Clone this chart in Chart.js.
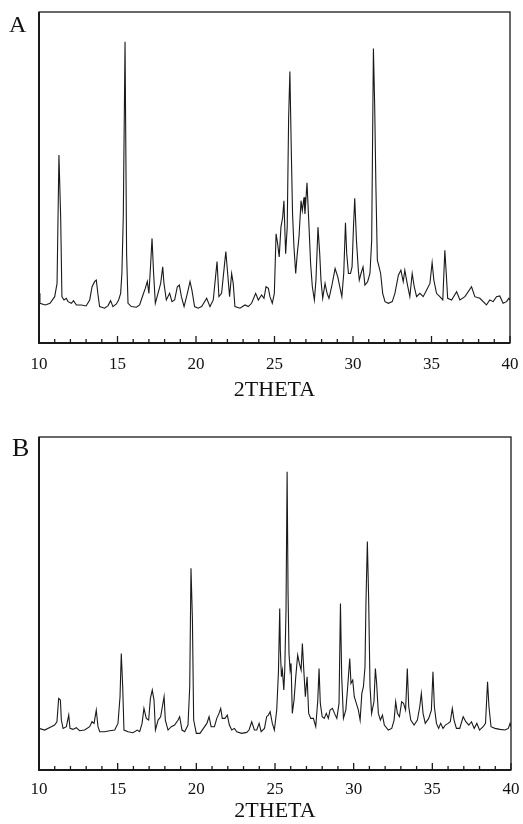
<!DOCTYPE html>
<html>
<head>
<meta charset="utf-8">
<script src="https://cdn.jsdelivr.net/npm/chart.js@4/dist/chart.umd.min.js"></script>
<style>
  html, body { margin: 0; padding: 0; background: #fff; }
  .panel { position: relative; width: 523px; height: 412px; }
  canvas { display: block; }
  .lab { position: absolute; font-family: "Liberation Serif", "DejaVu Serif", serif; color: #111; line-height: 1; }
</style>
</head>
<body>
<div class="panel">
  <canvas id="cA" width="523" height="412"></canvas>
  <span class="lab" style="left:9px;top:12px;font-size:24px;">A</span>
</div>
<div class="panel">
  <canvas id="cB" width="523" height="412"></canvas>
  <span class="lab" style="left:12px;top:23px;font-size:26px;">B</span>
</div>
<script>
// ---- data (2theta in degrees, intensity in arbitrary units) ----
const tickLabels = [10, 15, 20, 25, 30, 35, 40];

const thetaA = [10.00,10.06,10.40,10.70,11.00,11.15,11.27,11.38,11.46,11.59,11.74,11.85,12.06,12.20,12.38,12.70,13.00,13.23,13.38,13.55,13.65,13.76,13.86,14.18,14.40,14.56,14.71,14.93,15.07,15.20,15.28,15.37,15.48,15.58,15.67,15.88,16.20,16.41,16.62,16.77,16.90,17.00,17.09,17.20,17.30,17.41,17.58,17.75,17.88,17.96,18.11,18.32,18.47,18.64,18.81,18.94,19.07,19.24,19.45,19.62,19.74,19.91,20.13,20.36,20.68,20.89,21.10,21.34,21.46,21.63,21.80,21.90,22.00,22.14,22.27,22.37,22.48,22.80,23.12,23.33,23.54,23.80,23.97,24.18,24.33,24.46,24.61,24.71,24.86,24.99,25.10,25.20,25.30,25.41,25.52,25.60,25.71,25.81,25.90,25.98,26.07,26.15,26.24,26.35,26.45,26.56,26.69,26.77,26.88,26.94,27.07,27.20,27.30,27.41,27.54,27.64,27.77,27.88,27.96,28.07,28.22,28.35,28.47,28.64,28.86,29.03,29.18,29.29,29.41,29.52,29.60,29.71,29.84,29.94,30.03,30.11,30.22,30.34,30.40,30.51,30.64,30.76,30.93,31.08,31.19,31.30,31.38,31.46,31.55,31.66,31.76,31.89,32.04,32.25,32.50,32.67,32.89,33.05,33.20,33.30,33.45,33.62,33.77,33.90,34.05,34.26,34.47,34.69,34.90,35.04,35.15,35.32,35.53,35.72,35.85,35.94,36.03,36.28,36.60,36.81,37.13,37.55,37.76,38.08,38.50,38.71,38.93,39.14,39.35,39.56,39.78,39.93,40.00];
const intensityA = [15,12,11.5,12,14,18,56.8,38,14,13,13.5,12.5,12,12.8,11.5,11.5,11.2,13,17,18.6,19,14.5,11,10.5,11.3,12.8,11,11.8,13,15,21,38.5,91,27,12,11,10.8,11.5,14.5,16.5,18.6,15,22,31.6,21,12,15,18,23,18,13,15,12.5,13,17,17.5,14,11,15,18.6,16,11,10.5,11,13.5,11,13,24.6,14,15,23,27.6,22,14,21,18,11,10.5,11.5,11,12,15,13,14.5,13.5,17,16.5,14,12,15,33,30,26,35,38,43,27,35,68,82,58,39,29,21,27,32,43,40,44,39,48.4,35,24,17,13,19,35,27,19,13.5,18,15,13.5,17,22.5,20,16.5,14,21,36.3,27,21,21,23,35,43.7,31,22,19,21,23,17.5,18.5,21,31,89,72,47,25,23,21,15,12.5,12,12.5,15,20.5,22,18.5,22,18,14,21,17,14,15,14,16,18,24.3,19,15,14,13,28,21,13.5,13,15.5,13,14,17,14,13.5,11.5,13,12.5,14,14.2,12,12.5,13.5,13];

const thetaB = [10.00,10.36,10.78,10.99,11.14,11.25,11.36,11.42,11.53,11.74,11.89,11.97,12.16,12.37,12.58,12.90,13.22,13.37,13.50,13.64,13.75,13.86,14.17,14.49,14.81,15.02,15.15,15.23,15.32,15.40,15.66,15.97,16.25,16.40,16.55,16.67,16.82,16.97,17.08,17.20,17.31,17.40,17.57,17.73,17.95,18.03,18.20,18.41,18.62,18.84,18.94,19.09,19.26,19.47,19.58,19.66,19.75,19.83,20.00,20.23,20.45,20.67,20.81,20.94,21.15,21.30,21.44,21.55,21.65,21.82,21.97,22.10,22.25,22.42,22.57,22.88,23.20,23.35,23.52,23.69,23.84,23.99,24.12,24.33,24.47,24.58,24.69,24.83,24.96,25.11,25.22,25.30,25.34,25.41,25.47,25.56,25.62,25.70,25.77,25.83,25.89,25.96,26.02,26.10,26.21,26.32,26.44,26.55,26.66,26.74,26.83,26.93,27.04,27.14,27.27,27.44,27.59,27.72,27.80,27.88,28.00,28.13,28.26,28.39,28.50,28.65,28.78,28.93,29.07,29.16,29.24,29.35,29.50,29.62,29.75,29.83,29.94,30.04,30.17,30.30,30.41,30.52,30.62,30.72,30.78,30.87,30.95,31.04,31.14,31.29,31.38,31.46,31.57,31.70,31.83,31.95,32.20,32.42,32.57,32.67,32.78,32.91,33.05,33.17,33.30,33.41,33.50,33.63,33.84,34.05,34.20,34.30,34.41,34.55,34.77,34.94,35.04,35.13,35.26,35.40,35.53,35.68,35.83,36.00,36.14,36.27,36.38,36.53,36.74,36.96,37.13,37.32,37.49,37.66,37.83,38.00,38.23,38.38,38.51,38.60,38.73,38.98,39.30,39.62,39.83,39.94,40.00];
const intensityB = [12.5,12,13,13.5,14.5,21.5,21,15,12.5,13,16.5,12.5,12.2,12.7,11.8,12,13,14.5,14,18,13,11.5,11.5,11.8,12,14,22,35,25,12,11.5,11.2,12,11.5,14,18.5,15.5,15,21.5,24,21,12,15,16,22,15,12,13,13.5,15,16,12,11.5,13.5,25,60.6,45.5,15,11,11,12.5,14,16,13,13,15.5,17,18.5,15.5,15.5,16.5,13.5,12,12.5,11.5,11,11.3,12,14.5,12,12,14,11.5,12.5,16,16.5,17.5,14,12,18,29.6,48.5,36,28,30,24,30,48,89.6,53,35,30,32,17,21,28,34.5,32,30,38,30,22,28,17,15.5,15.5,13,21,30.5,20,16,15.5,17,15.5,18,18.5,17,15.5,20,50,28,15.5,18,25,33.5,26,27,22,20,18,15,23,25,31,50,68.6,52,25,17,20.5,30.5,26,17,15,16.5,13.5,12,12.5,15,20.5,17,16,20.5,20,18,30.5,19,15,13.5,15,19,23,17,14,15.5,18,29.5,19,14,12.5,14,12.5,13.5,14,14.5,18.5,15,12.5,12.5,16,14.5,13.5,14.5,12.5,14,12,13,14,26.5,19,13,12.5,12.2,12,12.5,14,13];

// ---- drawing ----
const SERIF = '"Liberation Serif", "Times New Roman", serif';

const framePlugin = {
  id: 'frame',
  afterDraw(chart) {
    const { ctx, chartArea: a, scales: { x } } = chart;
    ctx.save();
    ctx.strokeStyle = '#1a1a1a';
    ctx.lineWidth = 1.3;
    ctx.strokeRect(a.left, a.top, a.right - a.left, a.bottom - a.top);
    ctx.lineWidth = 2;
    ctx.beginPath();
    ctx.moveTo(a.left, a.top);
    ctx.lineTo(a.left, a.bottom);
    ctx.lineTo(a.right, a.bottom);
    ctx.stroke();
    ctx.lineWidth = 1.3;
    x.ticks.forEach(t => {
      const px = x.getPixelForValue(t.value);
      const len = tickLabels.includes(t.value) ? 7 : 4;
      ctx.beginPath();
      ctx.moveTo(px, a.bottom);
      ctx.lineTo(px, a.bottom - len);
      ctx.stroke();
    });
    ctx.restore();
  }
};

function makeChart(id, theta, inten, pad, axisH, tickPad, titlePad) {
  return new Chart(document.getElementById(id), {
    type: 'line',
    data: {
      datasets: [{
        data: theta.map((t, i) => ({ x: t, y: inten[i] })),
        borderColor: '#1a1a1a',
        borderWidth: 1.1,
        pointRadius: 0,
        tension: 0,
        fill: false
      }]
    },
    options: {
      responsive: false,
      animation: false,
      devicePixelRatio: 1,
      layout: { padding: pad },
      plugins: { legend: { display: false }, tooltip: { enabled: false }, title: { display: false } },
      scales: {
        x: {
          type: 'linear', min: 10, max: 40,
          grid: { display: false },
          border: { display: false },
          afterFit: s => { s.height = axisH; },
          ticks: {
            stepSize: 1, autoSkip: false, maxRotation: 0, padding: tickPad,
            color: '#111', font: { family: SERIF, size: 17 },
            callback: v => tickLabels.includes(v) ? String(v) : ''
          },
          title: {
            display: true, text: '2THETA', color: '#111',
            font: { family: SERIF, size: 22 },
            padding: titlePad
          }
        },
        y: { display: false, min: 0, max: 100 }
      }
    },
    plugins: [framePlugin]
  });
}

makeChart('cA', thetaA, intensityA, { left: 39, right: 13, top: 12, bottom: 0 }, 69, 3, { top: 0, bottom: 9 });
makeChart('cB', thetaB, intensityB, { left: 39, right: 12, top: 25, bottom: 0 }, 54, 1, { top: 0, bottom: 0 });
</script>
</body>
</html>
